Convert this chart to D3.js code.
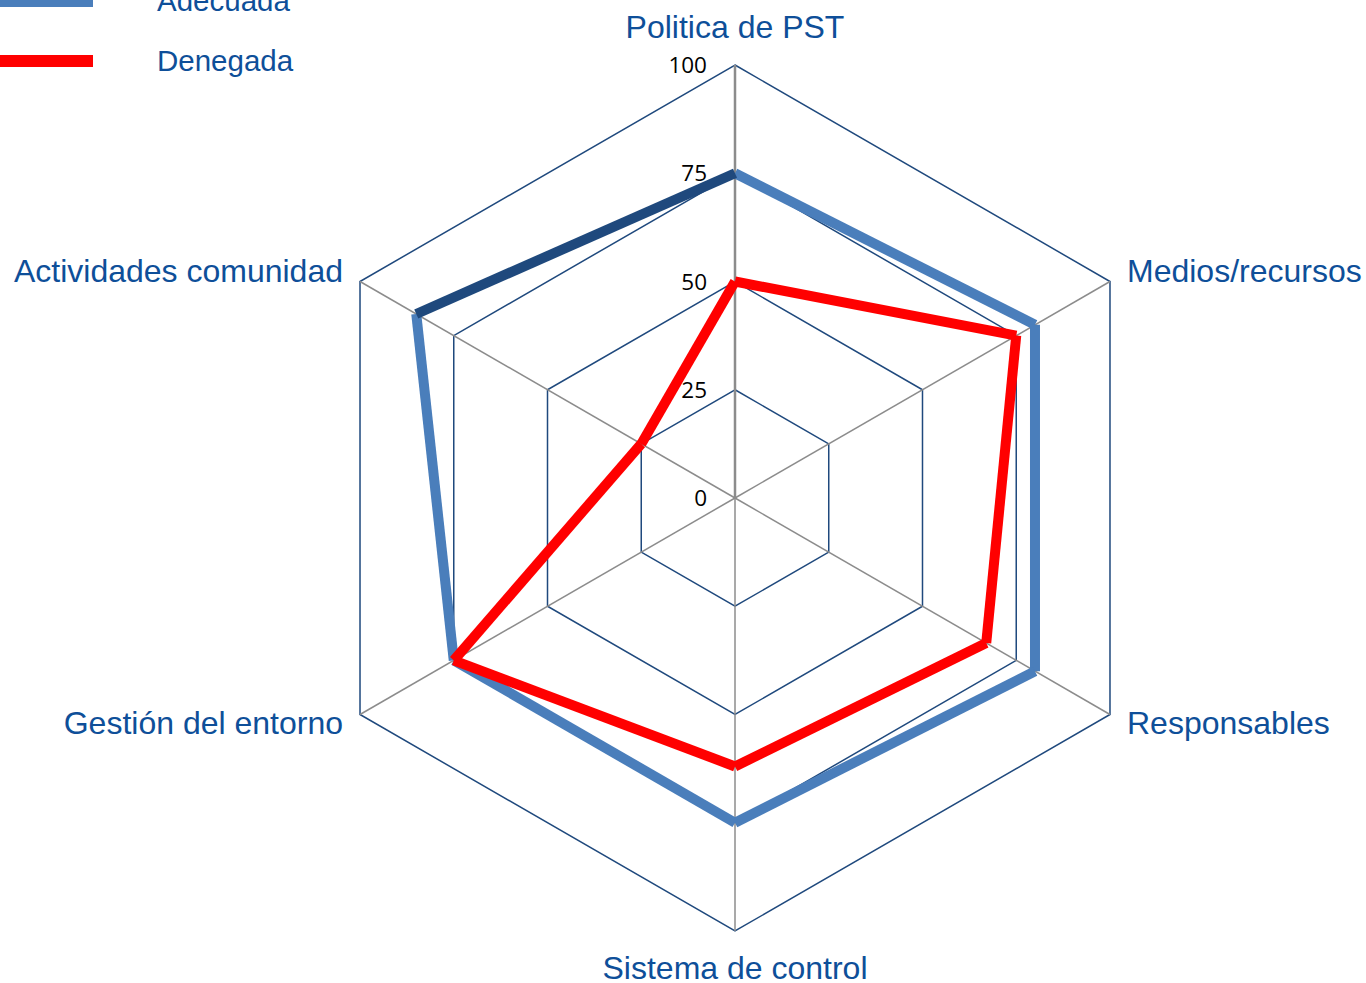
<!DOCTYPE html>
<html>
<head>
<meta charset="utf-8">
<script src="https://d3js.org/d3.v7.min.js"></script>
<style>
  body { margin: 0; background: #fff; }
  svg { display: block; }
</style>
</head>
<body>
<svg width="1366" height="983"></svg>
<script>
// chart data
const categories = ["Politica de PST", "Medios/recursos", "Responsables", "Sistema de control", "Gestión del entorno", "Actividades comunidad"];
const adecuada = [75, 80, 80, 75, 75, 85];
const denegada = [50, 75, 67, 62, 75, 25];
const ticks = [0, 25, 50, 75, 100];
const seriesNames = ["Adecuada", "Denegada"];

const svg = d3.select("svg");
const cx = 735, cy = 498, R = 433;
const textBlue = "#0e4f99";

const r = d3.scaleLinear().domain([0, 100]).range([0, R]);
const angle = i => i * Math.PI * 2 / categories.length;
const pt = (i, v) => [cx + r(v) * Math.sin(angle(i)), cy - r(v) * Math.cos(angle(i))];

// rings
ticks.filter(t => t > 0).forEach(t => {
    svg.append("polygon")
        .attr("points", categories.map((c, i) => pt(i, t).join(",")).join(" "))
        .attr("fill", "none")
        .attr("stroke", "#1f497d")
        .attr("stroke-width", 1.5);
});

// spokes
categories.forEach((c, i) => {
    const [x, y] = pt(i, 100);
    svg.append("line")
        .attr("x1", cx).attr("y1", cy).attr("x2", x).attr("y2", y)
        .attr("stroke", "#8c8c8c")
        .attr("stroke-width", i === 0 ? 2.5 : 1.5);
});

// tick labels
svg.selectAll(".tick").data(ticks).join("text")
    .attr("x", 707)
    .attr("y", d => cy - r(d) + 8)
    .attr("text-anchor", "end")
    .style("font", "22.5px 'Open Sans', sans-serif")
    .attr("fill", "#000")
    .text(d => d);

// series, drawn segment by segment like the original
function drawSeries(vals, color, lastColor) {
    const n = vals.length;
    for (let i = 0; i < n; i++) {
        const a = pt(i, vals[i]);
        const b = pt((i + 1) % n, vals[(i + 1) % n]);
        svg.append("line")
            .attr("x1", a[0]).attr("y1", a[1]).attr("x2", b[0]).attr("y2", b[1])
            .attr("stroke", (i === n - 1 && lastColor) ? lastColor : color)
            .attr("stroke-width", 10)
            .attr("stroke-linecap", "butt");
    }
}
drawSeries(adecuada, "#4a7ebb", "#1f497d");
drawSeries(denegada, "#ff0000");

// category labels
const labelPos = [
    {x: 735, y: 38, anchor: "middle"},
    {x: 1127, y: 282, anchor: "start"},
    {x: 1127, y: 734, anchor: "start"},
    {x: 735, y: 979, anchor: "middle"},
    {x: 343, y: 734, anchor: "end"},
    {x: 343, y: 282, anchor: "end"}
];
svg.selectAll(".cat").data(categories).join("text")
    .attr("x", (d, i) => labelPos[i].x)
    .attr("y", (d, i) => labelPos[i].y)
    .attr("text-anchor", (d, i) => labelPos[i].anchor)
    .style("font", "32px 'Liberation Sans', Arial, sans-serif")
    .attr("fill", textBlue)
    .text(d => d);

// legend
const legendColors = ["#4a7ebb", "#ff0000"];
const legendY = [1, 61];
seriesNames.forEach((s, i) => {
    svg.append("rect")
        .attr("x", 0).attr("y", legendY[i] - 6)
        .attr("width", 93).attr("height", 12)
        .attr("fill", legendColors[i]);
    svg.append("text")
        .attr("x", 157).attr("y", legendY[i] + 10)
        .style("font", "29.5px 'Liberation Sans', Arial, sans-serif")
        .attr("fill", textBlue)
        .text(s);
});
</script>
</body>
</html>
